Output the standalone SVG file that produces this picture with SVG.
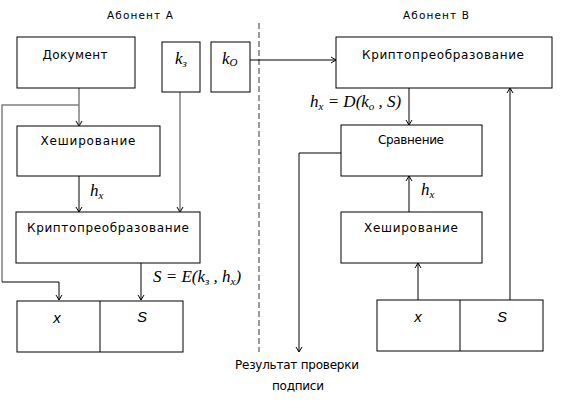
<svg xmlns="http://www.w3.org/2000/svg" width="579" height="420" viewBox="0 0 579 420">
<defs>
<marker id="ah" markerWidth="8" markerHeight="8" refX="6" refY="4" orient="auto" markerUnits="userSpaceOnUse">
<path d="M1,1 L6,4 L1,7" fill="none" stroke="#000" stroke-width="1"/>
</marker>
<marker id="ahg" markerWidth="8" markerHeight="8" refX="6" refY="4" orient="auto" markerUnits="userSpaceOnUse">
<path d="M1,1 L6,4 L1,7" fill="none" stroke="#333" stroke-width="1.2"/>
</marker>
</defs>
<style>
.box{fill:#fff;stroke:#000;stroke-width:1}
.t{font-family:"DejaVu Sans","Liberation Sans",sans-serif;font-size:12px;fill:#000}
.h{font-family:"DejaVu Sans","Liberation Sans",sans-serif;font-size:10.5px;fill:#000}
.m{font-family:"Liberation Serif",serif;font-style:italic;font-size:17px;fill:#000}
.ms{font-family:"Liberation Serif",serif;font-style:italic;font-size:11px;fill:#000}
.v{font-family:"Liberation Sans",sans-serif;font-style:italic;font-size:15px;fill:#000}
.c{fill:none;stroke:#000;stroke-width:1}
.g{fill:none;stroke:#808080;stroke-width:1.5}
</style>
<rect width="579" height="420" fill="#fff"/>
<text class="h" x="140" y="19" text-anchor="middle" textLength="66">Абонент А</text>
<text class="h" x="436" y="19" text-anchor="middle" textLength="66">Абонент В</text>
<line x1="259" y1="23" x2="259" y2="352" stroke="#999" stroke-width="2" stroke-dasharray="6,3"/>
<g id="connectors">
<path class="g" d="M79,88 V126" marker-end="url(#ahg)"/>
<path class="g" d="M79,105 H2 V282"/>
<path class="c" d="M2,282 H59 V300" marker-end="url(#ah)"/>
<path class="g" d="M180,92 V212" marker-end="url(#ahg)"/>
<path class="c" d="M79,176 V212" marker-end="url(#ah)"/>
<path class="c" d="M141,263 V300" marker-end="url(#ah)"/>
<path class="c" d="M250,60 H336" marker-end="url(#ah)"/>
<path class="c" d="M409,88 V125" marker-end="url(#ah)"/>
<path class="c" d="M409,212 V176" marker-end="url(#ah)"/>
<path class="c" d="M418,300 V263" marker-end="url(#ah)"/>
<path class="c" d="M510,300 V88" marker-end="url(#ah)"/>
<path class="c" d="M341,153 H299 V352" marker-end="url(#ah)"/>
</g>
<g id="doc"><rect class="box" x="17" y="37" width="118" height="51"/><text class="t" x="75" y="59" text-anchor="middle" textLength="65">Документ</text></g>
<g id="kz"><rect class="box" x="162" y="42" width="38" height="50"/><text class="m" x="175" y="64">k<tspan class="ms" dy="3">з</tspan></text></g>
<g id="ko"><rect class="box" x="211" y="42" width="39" height="50"/><text class="m" x="222" y="64">k<tspan class="ms" dy="2">O</tspan></text></g>
<g id="hashA"><rect class="box" x="17" y="126" width="143" height="50"/><text class="t" x="88" y="145" text-anchor="middle" textLength="95">Хеширование</text></g>
<g id="cryptoA"><rect class="box" x="16" y="212" width="184" height="51"/><text class="t" x="108" y="232" text-anchor="middle" textLength="162">Криптопреобразование</text></g>
<g id="msgA"><rect class="box" x="17" y="301" width="166" height="51"/><line class="c" x1="100" y1="301" x2="100" y2="352"/><text class="v" x="57" y="323" text-anchor="middle">x</text><text class="v" x="142" y="322" text-anchor="middle">S</text></g>
<g id="cryptoB"><rect class="box" x="336" y="37" width="216" height="51"/><text class="t" x="443" y="59" text-anchor="middle" textLength="162">Криптопреобразование</text></g>
<g id="cmpB"><rect class="box" x="341" y="125" width="141" height="51"/><text class="t" x="411" y="144" text-anchor="middle" textLength="66">Сравнение</text></g>
<g id="hashB"><rect class="box" x="341" y="212" width="141" height="51"/><text class="t" x="411" y="232" text-anchor="middle" textLength="94">Хеширование</text></g>
<g id="msgB"><rect class="box" x="377" y="300" width="166" height="51"/><line class="c" x1="460" y1="300" x2="460" y2="351"/><text class="v" x="418" y="322" text-anchor="middle">x</text><text class="v" x="502" y="322" text-anchor="middle">S</text></g>
<text class="m" x="90" y="196">h<tspan class="ms" dy="3">x</tspan></text>
<text class="m" x="421" y="195">h<tspan class="ms" dy="3">x</tspan></text>
<text class="m" x="153" y="282">S = E(k<tspan class="ms" dy="3">з</tspan><tspan dy="-3"> , h</tspan><tspan class="ms" dy="3">x</tspan><tspan dy="-3">)</tspan></text>
<text class="m" x="310" y="107">h<tspan class="ms" dy="3">x</tspan><tspan dy="-3"> = D(k</tspan><tspan class="ms" dy="3">o</tspan><tspan dy="-3"> , S)</tspan></text>
<text class="t" x="297" y="369" text-anchor="middle" textLength="124">Результат проверки</text>
<text class="t" x="298" y="390" text-anchor="middle" textLength="52">подписи</text>
</svg>
